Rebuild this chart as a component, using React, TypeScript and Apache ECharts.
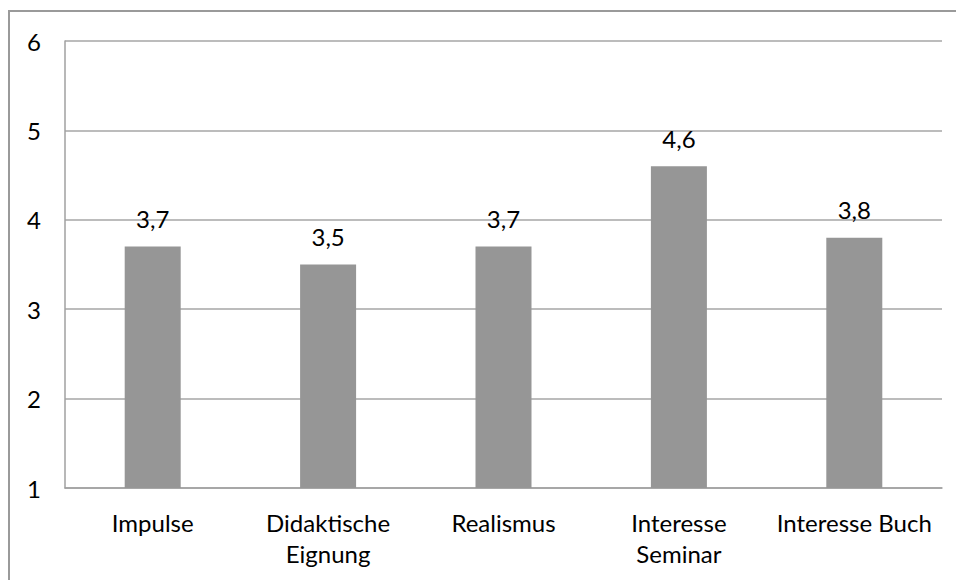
import React, { useEffect, useRef } from "react";
import * as echarts from "echarts";

const categories = ["Impulse", "Didaktische\nEignung", "Realismus", "Interesse\nSeminar", "Interesse Buch"];
const values = [3.7, 3.5, 3.7, 4.6, 3.8];
const yMin = 1;
const yMax = 6;
const yInterval = 1;

export default function App() {
  const ref = useRef<HTMLDivElement>(null);
  useEffect(() => {
    if (!ref.current) return;
    const chart = echarts.init(ref.current, null, { renderer: "svg" });
    const font = "Lato, 'Open Sans', sans-serif";
    chart.setOption({
      animation: false,
      backgroundColor: "#ffffff",
      graphic: [
        {
          type: "rect",
          shape: { x: 9, y: 11, width: 1000, height: 620 },
          style: { fill: "none", stroke: "#9a9a9a", lineWidth: 2 },
          silent: true,
        },
      ],
      grid: { left: 65, right: 14, top: 41, bottom: 92, containLabel: false },
      xAxis: {
        type: "category",
        data: categories,
        axisLine: { show: true, lineStyle: { color: "#a0a0a0", width: 1.5 } },
        axisTick: { show: false },
        axisLabel: {
          color: "#000000",
          fontFamily: font,
          fontSize: 24,
          lineHeight: 31,
          margin: 19,
          interval: 0,
        },
      },
      yAxis: {
        type: "value",
        min: yMin,
        max: yMax,
        interval: yInterval,
        axisLine: { show: true, lineStyle: { color: "#a0a0a0", width: 1.5 } },
        axisTick: { show: false },
        splitLine: { show: true, lineStyle: { color: "#a6a6a6", width: 1.5 } },
        axisLabel: {
          color: "#000000",
          fontFamily: font,
          fontSize: 24,
          margin: 24,
        },
      },
      series: [
        {
          type: "bar",
          data: values,
          barWidth: 56,
          itemStyle: { color: "#969696" },
          label: {
            show: true,
            position: "top",
            distance: 16,
            color: "#000000",
            fontFamily: font,
            fontSize: 24,
            lineHeight: 24,
            formatter: (p: any) => Number(p.value).toFixed(1).replace(".", ","),
          },
        },
      ],
    });
    return () => chart.dispose();
  }, []);
  return (
    <div
      ref={ref}
      style={{ position: "fixed", left: 0, top: 0, width: 956, height: 580 }}
    />
  );
}
